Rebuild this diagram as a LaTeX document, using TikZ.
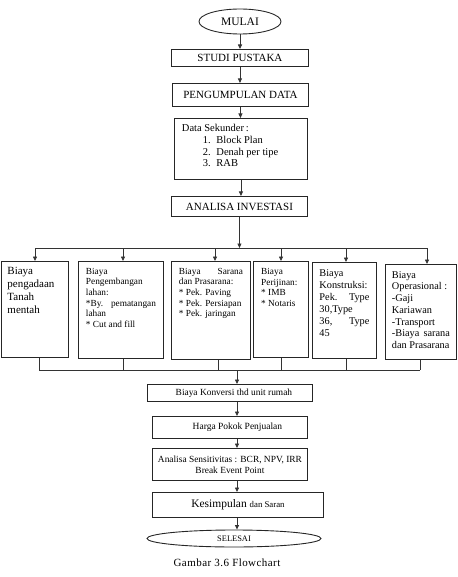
\documentclass[tikz,border=0pt]{standalone}
\usepackage{fontspec}
\setmainfont{Liberation Serif}
\usetikzlibrary{shapes.geometric,arrows.meta}
\newcommand{\tbx}[3]{\parbox[t][#2][t]{#1}{\raggedright #3}}
\newcommand{\fs}[2]{\fontsize{#1}{#2}\selectfont}
\tikzset{
  box/.style={draw=black!85, line width=0.9pt, inner sep=0pt, anchor=north west},
  oval/.style={draw=black!85, line width=0.9pt, ellipse, inner sep=0pt},
  conn/.style={draw=black!80, line width=0.8pt},
  arr/.style={conn, -{Triangle[length=4.5pt,width=4pt]}},
}
\begin{document}
\begin{tikzpicture}[x=1pt,y=-1pt]
\useasboundingbox (0,0) rectangle (457,577);
% main column
\node[oval, minimum width=82pt, minimum height=25pt, font=\fs{11.5}{13}] (mulai) at (240,21.5) {MULAI};
\node[box, minimum width=137pt, minimum height=17pt, font=\fs{11}{13}] (studi) at (171,49) {STUDI PUSTAKA};
\node[box, minimum width=136pt, minimum height=23pt, font=\fs{11}{13}] (peng) at (172,83) {PENGUMPULAN DATA};
\node[box, inner xsep=7.5pt, inner ysep=6pt, font=\fs{10.5}{11.7}] (data) at (174,118)
  {\tbx{118pt}{49pt}{Data Sekunder\,:\\
   \hspace*{21pt}\makebox[13.5pt][l]{1.}Block Plan\\
   \hspace*{21pt}\makebox[13.5pt][l]{2.}Denah per tipe\\
   \hspace*{21pt}\makebox[13.5pt][l]{3.}RAB}};
\node[box, minimum width=136pt, minimum height=20pt, font=\fs{11}{13}] (ana) at (171,196) {ANALISA INVESTASI};

% cost boxes
\node[box, inner xsep=6pt, inner ysep=6pt, font=\fs{11}{12.8}] (b1) at (1,261)
  {\tbx{55pt}{84pt}{Biaya\\pengadaan\\Tanah\\mentah}};
\node[box, inner xsep=7.5pt, inner ysep=6.5pt, font=\fs{9.3}{10.7}] (b2) at (78,261)
  {\tbx{70pt}{84pt}{Biaya\\Pengembangan\\lahan:\\{*}By.\hfill pematangan\\lahan\\{*} Cut and fill}};
\node[box, inner xsep=7.5pt, inner ysep=6.5pt, font=\fs{9.3}{10.7}] (b3) at (171,261)
  {\tbx{64pt}{85pt}{Biaya\hfill Sarana\\dan Prasarana:\\{*} Pek. Paving\\{*} Pek. Persiapan\\{*} Pek. jaringan}};
\node[box, line width=1.4pt, inner xsep=7.5pt, inner ysep=6.5pt, font=\fs{9.3}{10.7}] (b4) at (253,261)
  {\tbx{40pt}{83pt}{Biaya\\Perijinan:\\{*} IMB\\{*} Notaris}};
\node[box, inner xsep=7pt, inner ysep=7pt, font=\fs{10.3}{12}] (b5) at (312,262)
  {\tbx{50pt}{82pt}{Biaya\\Konstruksi:\\Pek.\hfill Type\\30,Type\\36,\hfill Type\\45}};
\node[box, inner xsep=6.5pt, inner ysep=7pt, font=\fs{10.3}{11.7}] (b6) at (385,264)
  {\tbx{58pt}{81pt}{Biaya\\Operasional :\\-Gaji\\Kariawan\\-Transport\\-Biaya\hfill sarana\\dan Prasarana}};

% lower column
\node[box, minimum width=165pt, minimum height=17pt, font=\fs{9.4}{11}] (konv) at (147,384) {\hspace*{8pt}Biaya Konversi thd unit rumah};
\node[box, minimum width=155pt, minimum height=22pt, font=\fs{9.5}{11}] (harga) at (152,416) {\hspace*{15pt}Harga Pokok Penjualan};
\node[box, minimum width=155pt, minimum height=32pt, align=center, font=\fs{9.4}{11}] (sens) at (152,448) {Analisa Sensitivitas : BCR, NPV, IRR\\Break Event Point};
\node[box, minimum width=171pt, minimum height=25pt] (kes) at (152,492) {\fs{11.5}{13}Kesimpulan \fs{8.8}{10}dan Saran};
\node[oval, minimum width=174pt, minimum height=17pt, font=\fs{8.4}{10}] (sel) at (234,538.5) {SELESAI};
\node[font=\fs{11}{13}\addfontfeature{LetterSpace=4}] (cap) at (227,563) {Gambar 3.6 Flowchart};

% connectors top column
\draw[arr] (mulai.south) -- (mulai.south |- studi.north);
\draw[arr] (studi.south) -- (studi.south |- peng.north);
\draw[arr] (peng.south) -- (peng.south |- data.north);
\draw[arr] (data.south) -- (data.south |- ana.north);

% distribution bar
\coordinate (t1) at (35,248);
\coordinate (t2) at (123,248);
\coordinate (t3) at (215,248);
\coordinate (t4) at (281,248);
\coordinate (t5) at (346,248);
\coordinate (t6) at (427,248);
\draw[conn] (t1) -- (t6);
\draw[arr] (ana.south) -- (ana.south |- t1);
\draw[arr] (t1) -- (t1 |- b1.north);
\draw[arr] (t2) -- (t2 |- b2.north);
\draw[arr] (t3) -- (t3 |- b3.north);
\draw[arr] (t4) -- (t4 |- b4.north);
\draw[arr] (t5) -- (t5 |- b5.north);
\draw[arr] (t6) -- (t6 |- b6.north);

% collecting bar
\coordinate (u1) at (39,370);
\coordinate (u2) at (123,370);
\coordinate (u3) at (218,370);
\coordinate (u4) at (281,370);
\coordinate (u5) at (346,370);
\coordinate (u6) at (420,370);
\coordinate (uc) at (237,370);
\draw[conn] (u1 |- b1.south) -- (u1);
\draw[conn] (u2 |- b2.south) -- (u2);
\draw[conn] (u3 |- b3.south) -- (u3);
\draw[conn] (u4 |- b4.south) -- (u4);
\draw[conn] (u5 |- b5.south) -- (u5);
\draw[conn] (u6 |- b6.south) -- (u6);
\draw[conn] (u1) -- (u6);
\draw[arr] (uc) -- (uc |- konv.north);
\draw[arr] (konv.south -| uc) -- (harga.north -| uc);
\draw[arr] (harga.south -| uc) -- (sens.north -| uc);
\draw[arr] (sens.south -| uc) -- (kes.north -| uc);
\draw[arr] (kes.south -| uc) -- (sel.north -| uc);
\end{tikzpicture}
\end{document}
